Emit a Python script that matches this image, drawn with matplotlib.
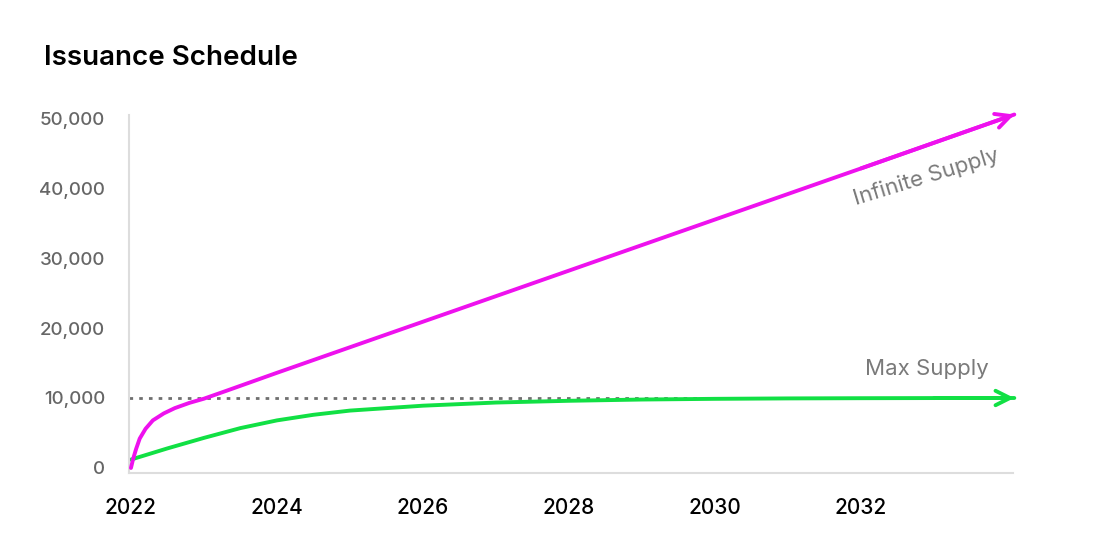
import numpy as np
import matplotlib.pyplot as plt

# ── Data ──────────────────────────────────────────────────
inf_years = [2022.0, 2022.03, 2022.07, 2022.12, 2022.2, 2022.3, 2022.45, 2022.6,
             2022.8, 2023.0, 2023.3, 2024.0, 2026.0, 2028.0, 2030.0, 2032.0, 2034.1]
inf_supply = [0, 1300, 2700, 4200, 5600, 6800, 7800, 8550,
              9300, 9900, 11000, 13600, 20900, 28200, 35500, 42800, 50500]

max_years = [2022.0, 2022.5, 2023.0, 2023.5, 2024.0, 2024.5, 2025.0, 2026.0,
             2027.0, 2028.0, 2029.0, 2030.0, 2031.0, 2032.0, 2033.0, 2034.1]
max_supply = [1200, 2800, 4300, 5700, 6800, 7600, 8200, 8900,
              9350, 9600, 9780, 9880, 9940, 9970, 9990, 10000]

cap = 10000
x_ticks = [2022, 2024, 2026, 2028, 2030, 2032]
y_ticks = [0, 10000, 20000, 30000, 40000, 50000]

magenta = "#ee11ee"
green = "#11e044"
grey = "#7a7a7a"

plt.rcParams['font.family'] = ['Inter', 'DejaVu Sans']

fig = plt.figure(figsize=(11.09, 5.6), dpi=100)
ax = fig.add_axes([0.1163, 0.1554, 0.797, 0.6392])

# ── Lines ─────────────────────────────────────────────────
ax.axhline(cap, color="#6f6f6f", lw=2, ls=(0, (1.3, 2.2)), zorder=1)
ax.plot(max_years, max_supply, color=green, lw=2.8, solid_capstyle="round", zorder=2, clip_on=False)
ax.plot(inf_years, inf_supply, color=magenta, lw=2.8, solid_capstyle="round", zorder=3, clip_on=False)

# arrow heads
for xs, ys, c in [(inf_years, inf_supply, magenta), (max_years, max_supply, green)]:
    ax.annotate("", xy=(xs[-1], ys[-1]), xytext=(xs[-2], ys[-2]),
                arrowprops=dict(arrowstyle="->", color=c, lw=2.8, mutation_scale=26,
                                shrinkA=0, shrinkB=0),
                annotation_clip=False, zorder=4)

# ── Labels ────────────────────────────────────────────────
ax.text(2032.9, 41500, "Infinite Supply", color=grey, fontsize=16,
        rotation=17, ha="center", va="center")
ax.text(2032.9, 14100, "Max Supply", color=grey, fontsize=16,
        ha="center", va="center")

fig.text(0.040, 0.897, "Issuance Schedule", fontsize=20, fontweight="semibold",
         color="black", ha="left", va="center")

# ── Axes styling ──────────────────────────────────────────
ax.set_xlim(2021.973, 2034.08)
ax.set_ylim(-714, 50430)
ax.set_xticks(x_ticks)
ax.set_xticklabels([str(t) for t in x_ticks], fontsize=15, fontweight="medium", color="black")
ax.set_yticks(y_ticks)
ax.set_yticklabels([f"{t:,}" for t in y_ticks], fontsize=13.5, fontweight="medium", color="#666666")
ax.tick_params(axis="both", length=0)
ax.tick_params(axis="x", pad=18)
ax.tick_params(axis="y", pad=17)
for s in ["top", "right"]:
    ax.spines[s].set_visible(False)
for s in ["left", "bottom"]:
    ax.spines[s].set_color("#dddddd")
    ax.spines[s].set_linewidth(1.5)

fig.savefig("out.png", dpi=100)
